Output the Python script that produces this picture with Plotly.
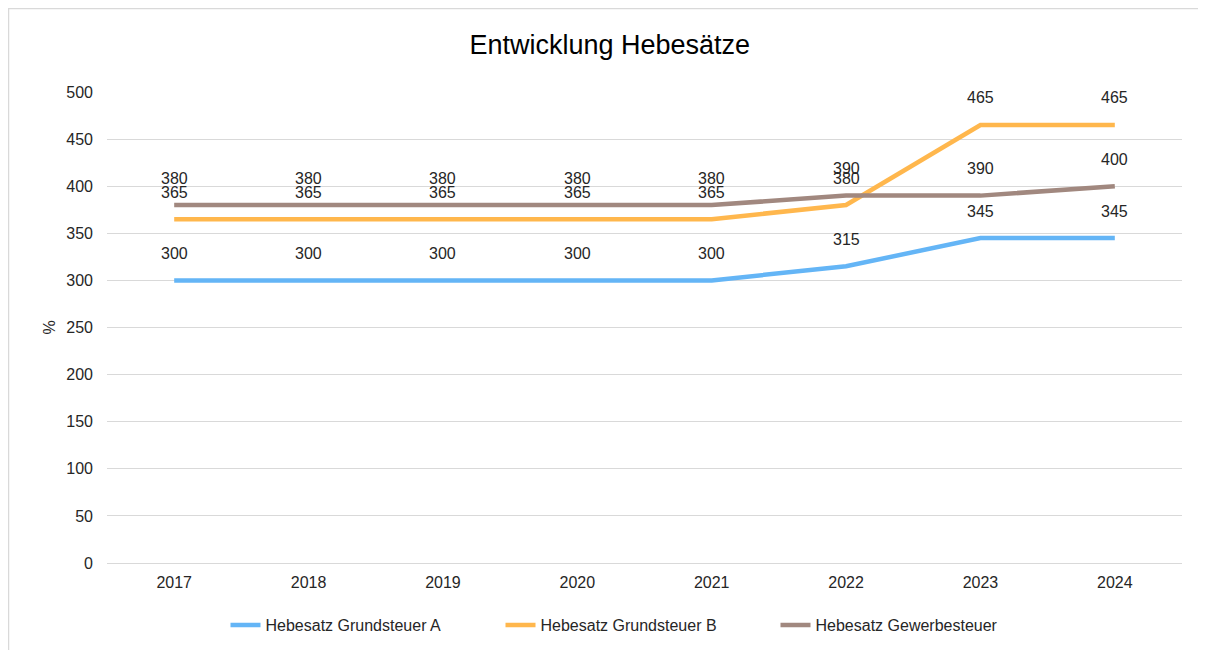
import plotly.graph_objects as go

years = ["2017", "2018", "2019", "2020", "2021", "2022", "2023", "2024"]
grund_a = [300, 300, 300, 300, 300, 315, 345, 345]
grund_b = [365, 365, 365, 365, 365, 380, 465, 465]
gewerbe = [380, 380, 380, 380, 380, 390, 390, 400]
series_names = ["Hebesatz Grundsteuer A", "Hebesatz Grundsteuer B", "Hebesatz Gewerbesteuer"]
colors = ["#64B5F6", "#FFB74D", "#A1887F"]
y_ticks = [0, 50, 100, 150, 200, 250, 300, 350, 400, 450, 500]

FONT = "Liberation Sans, Arial, sans-serif"
TXT = "#262626"

L, R, T, B = 99, 32, 84, 95
PW, PH = 1206 - L - R, 650 - T - B

fig = go.Figure()
annotations = []
for name, vals, col in zip(series_names, [grund_a, grund_b, gewerbe], colors):
    fig.add_trace(go.Scatter(x=years, y=vals, name=name, mode="lines",
                             line=dict(color=col, width=4.5)))
    for i, v in enumerate(vals):
        annotations.append(dict(x=i, y=v, xref="x", yref="y", text=str(v),
                                showarrow=False, yshift=27,
                                font=dict(family=FONT, size=16, color=TXT)))

fig.update_layout(
    width=1206, height=650,
    margin=dict(l=L, r=R, t=T, b=B, autoexpand=False),
    paper_bgcolor="white", plot_bgcolor="white",
    font=dict(family=FONT, size=16, color=TXT),
    title=dict(text="Entwicklung Hebesätze", x=0.499, xanchor="center",
               y=1 - 37 / 650, yanchor="middle", yref="container",
               font=dict(family=FONT, size=27, color="#000000")),
    xaxis=dict(type="category", range=[-0.5, 7.5], showgrid=False, showline=False,
               zeroline=False, ticks="", ticklabelstandoff=8,
               tickfont=dict(size=16, color=TXT)),
    yaxis=dict(range=[0, 500], tickvals=y_ticks, showgrid=True, gridcolor="#D9D9D9",
               gridwidth=1, zeroline=True, zerolinecolor="#D9D9D9", zerolinewidth=1,
               showline=False, ticks="", ticklabelstandoff=13,
               tickfont=dict(size=16, color=TXT),
               title=dict(text="%", standoff=6, font=dict(size=16, color=TXT))),
    legend=dict(orientation="h", x=(630 - L) / PW, xanchor="center",
                y=(555 - 617) / PH, yanchor="middle", entrywidth=230,
                font=dict(family=FONT, size=16, color=TXT)),
    annotations=annotations,
    shapes=[dict(type="rect", xref="paper", yref="paper",
                 x0=(0.5 - L) / PW, x1=1.2, y0=-0.3, y1=(PH + T - 0.5) / PH,
                 line=dict(color="#D9D9D9", width=1.5), layer="below")],
)

fig.write_html("out.html")
